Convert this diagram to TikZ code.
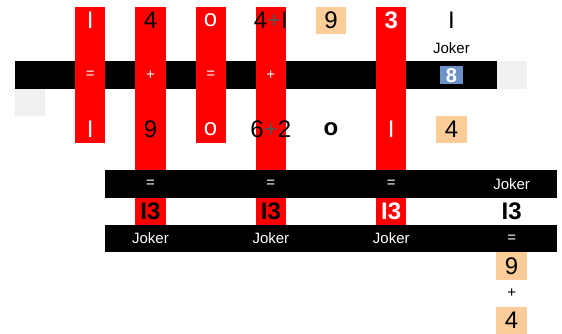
\documentclass[tikz,border=0pt]{standalone}
\usepackage{fontspec}
\setmainfont{Liberation Sans}
\usepackage{xcolor}
\usepackage{tikz}
\usetikzlibrary{positioning}

\definecolor{tancell}{RGB}{252,204,153}
\definecolor{graycell}{RGB}{240,240,240}
\definecolor{bluecell}{RGB}{108,147,201}
\definecolor{plusgray}{RGB}{85,85,85}

\begin{document}
\begin{tikzpicture}[
  x=30.1pt, y=-27.25pt,
  redcol/.style={fill=red},
  bar/.style={fill=black},
  big/.style={font=\fontsize{24}{24}\selectfont, inner sep=0pt},
  bigb/.style={font=\fontsize{24}{24}\selectfont\bfseries, inner sep=0pt},
  lbl/.style={font=\fontsize{15}{15}\selectfont, inner sep=0pt},
  op/.style={font=\fontsize{15}{15}\selectfont, text=white, inner sep=0pt},
  tan/.style={fill=tancell, minimum width=30.5pt, minimum height=27.5pt,
    font=\fontsize{24}{24}\selectfont, inner sep=0pt}
]
\fill[white] (-0.4983,-0.2569) rectangle (18.1728,12);
\useasboundingbox (-0.4983,-0.2569) rectangle (18.1728,12);
% top bar and grey cells
\fill[bar] (0,2) rectangle (16,3);
\fill[graycell] (0,3) rectangle (1,4);
\fill[graycell] (16,2) rectangle (17,3);
% red columns
\fill[redcol] (2,0) rectangle (3,5);
\fill[redcol] (4,0) rectangle (5,8);
\fill[redcol] (6,0) rectangle (7,5);
\fill[redcol] (8,0) rectangle (9,8);
\fill[redcol] (12,0) rectangle (13,8);
% bottom bars
\fill[bar] (3,6) rectangle (18,7);
\fill[bar] (3,8) rectangle (18,9);

% first row
\node[big, text=white] (a1) at (2.5,0.5) {I};
\node[big] (b1) at (4.5,0.5) {4};
\node[big, text=white] (c1) at (6.5,0.5) {o};
\node[big] (d1) at (8.5,0.5) {4\textcolor{plusgray}{+}I};
\node[tan] (e1) at (10.5,0.5) {9};
\node[bigb, text=white] (f1) at (12.5,0.5) {3};
\node[big] (g1) at (14.5,0.5) {I};
\node[lbl] (jk1) at (14.5,1.5) {Joker};

% operators on the top bar
\node[op] (a2) at (2.5,2.5) {=};
\node[op] (b2) at (4.5,2.5) {+};
\node[op] (c2) at (6.5,2.5) {=};
\node[op] (d2) at (8.5,2.5) {+};
\node[fill=bluecell, text=white, minimum width=23pt, minimum height=18pt,
  inner sep=0pt, font=\fontsize{20}{20}\selectfont\bfseries] (g2) at (14.5,2.5) {8};

% second row
\node[big, text=white] (a4) at (2.5,4.5) {I};
\node[big] (b4) at (4.5,4.5) {9};
\node[big, text=white] (c4) at (6.5,4.5) {o};
\node[big] (d4) at (8.5,4.5) {6\textcolor{plusgray}{+}2};
\node[bigb] (e4) at (10.5,4.5) {o};
\node[big, text=white] (f4) at (12.5,4.5) {I};
\node[tan] (g4) at (14.5,4.5) {4};

% lower bars
\node[op] (b6) at (4.5,6.5) {=};
\node[op] (d6) at (8.5,6.5) {=};
\node[op] (f6) at (12.5,6.5) {=};
\node[lbl, text=white] (h6) at (16.5,6.5) {Joker};
\node[bigb] (b7) at (4.5,7.5) {I3};
\node[bigb] (d7) at (8.5,7.5) {I3};
\node[bigb, text=white] (f7) at (12.5,7.5) {I3};
\node[bigb] (h7) at (16.5,7.5) {I3};
\node[lbl, text=white] (b8) at (4.5,8.5) {Joker};
\node[lbl, text=white] (d8) at (8.5,8.5) {Joker};
\node[lbl, text=white] (f8) at (12.5,8.5) {Joker};
\node[op] (h8) at (16.5,8.5) {=};

% last column
\node[tan] (h9) at (16.5,9.5) {9};
\node[op, text=black] (h10) at (16.5,10.5) {+};
\node[tan] (h11) at (16.5,11.5) {4};
\end{tikzpicture}
\end{document}
